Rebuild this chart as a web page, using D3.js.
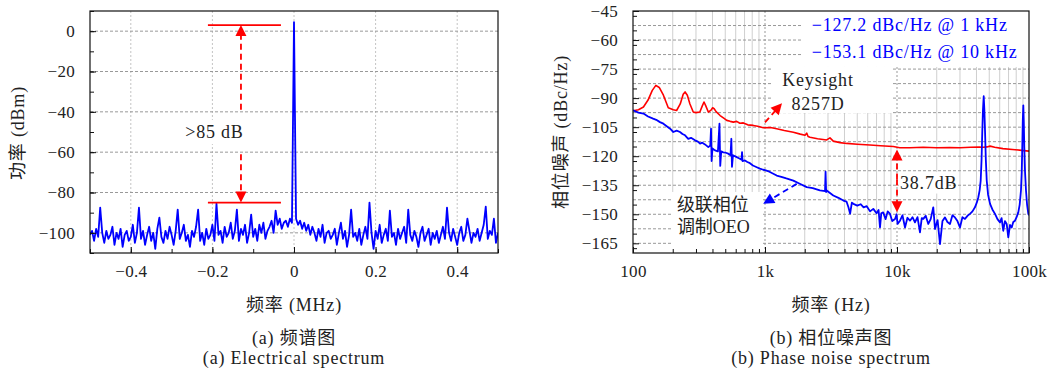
<!DOCTYPE html>
<html><head><meta charset="utf-8">
<script src="https://cdn.jsdelivr.net/npm/d3@7"></script>
<style>
body{margin:0;background:#fff}
svg text{font-family:"Liberation Serif","Noto Sans CJK SC",serif;fill:#222}
</style>
</head><body><svg id="c" width="1050" height="374"></svg>
<script>
// ---------------- DATA ----------------
// (a) electrical spectrum: power (dBm) sampled every 0.005 MHz from -0.5 to 0.5
const spectrumStart = -0.5, spectrumStep = 0.005;
const spectrumPower = [
 -101,-99,-104,-98,-102,-87.5,-100,-105,-99,-103,
 -101,-97,-106,-100,-103,-98,-107,-101,-99,-104,
 -102,-96,-105,-100,-87.5,-103,-99,-106,-101,-97,
 -104,-100,-108,-98,-92.5,-102,-105,-99,-103,-97,
 -101,-106,-99,-88.5,-103,-100,-96,-104,-101,-107,
 -99,-102,-97,-88.5,-104,-100,-106,-98,-103,-101,
 -96,-104,-85.5,-101,-99,-105,-97,-102,-100,-95,
 -103,-99,-88.5,-104,-98,-101,-96,-105,-100,-91,
 -102,-98,-104,-96,-100,-95,-103,-99,-97,-94,
 -100,-89,-96,-93,-98,-95,-94,-97,-93,-95,
 4.5,
 -93,-96,-94,-98,-95,-99,-96,-101,-97,
 -100,-104,-98,-102,-96,-105,-100,-99,-103,-101,
 -98,-106,-100,-95,-103,-99,-107,-101,-88.5,-102,
 -100,-104,-98,-106,-101,-97,-103,-85,-100,-108,
 -99,-103,-96,-105,-101,-98,-104,-89,-102,-100,
 -106,-98,-103,-100,-97,-105,-88.5,-101,-104,-99,
 -102,-107,-100,-97,-104,-101,-98,-106,-100,-103,
 -99,-105,-101,-97,-103,-87.5,-100,-104,-98,-102,
 -106,-100,-97,-104,-101,-93,-99,-105,-100,-102,
 -98,-104,-100,-96,-87,-103,-99,-101,-93,-105,
 -100
];
const specXTicks = [-0.4,-0.2,0,0.2,0.4];
const specXTickLabels = ["\u22120.4","\u22120.2","0","0.2","0.4"];
const specYTicks = [0,-20,-40,-60,-80,-100];
const specYTickLabels = ["0","\u221220","\u221240","\u221260","\u221280","\u2212100"];

// (b) phase noise: Keysight 8257D (red)
const keysightFreq = [100,110,120,130,140,149,158,170,185,202,214,228,240,248,258,270,286,300,321,335,345,356,372,390,401,412,426,457,490,513,545,575,610,645,685,740,815,880,970,1100,1226,1400,1639,1850,2009,2070,2120,2193,2500,2933,3106,3291,3700,4159,5000,6237,7500,9376,10500,12500,15800,20000,25000,30000,36000,42000,45100,48000,50700,55000,63500,75000,88000,100000];
const keysightPN = [-96.5,-96,-94.6,-91,-86,-83.4,-84.5,-88.5,-95,-96,-96.4,-93,-88,-86.8,-88.5,-93,-97.2,-97.5,-97.2,-94,-92,-94,-97.2,-96.2,-95,-95.5,-97,-99,-100.5,-101.5,-102,-102.4,-102,-103,-102.8,-103.8,-104.1,-104.5,-105.3,-105.2,-105.8,-106.7,-107.6,-108.6,-109.2,-108.1,-109.8,-110.2,-111,-111.6,-110.5,-112.2,-113,-113.4,-113.8,-114.2,-114.6,-115,-115.6,-115.6,-115.4,-115.6,-115.5,-115.6,-115.4,-115.3,-115.4,-115.2,-114.8,-115.4,-116.1,-116.5,-117,-117.4];

// (b) phase noise: cascaded phase-modulation OEO (blue)
const oeoFreq = [100,110,120,130,142,150,160,170,180,191,202,214,227,237,248,262,275,295,310,322,335,351,372,385,390,394,400,418,440,452,458,466,483,505,527,548,556,562,572,611,640,664,670,676,705,735,769,810,866,915,969,1000,1080,1226,1350,1450,1639,1800,2070,2300,2604,2850,2876,2905,2933,3291,3600,3922,4150,4287,4415,4550,4676,5000,5300,5584,5900,6250,6613,7000,7250,7434,7600,7858,8200,8500,8851,9200,9661,9934,10100,10540,11000,11500,12000,12540,13100,13680,14300,14930,15400,15820,16500,17260,18000,18830,19400,20300,21170,22100,23100,24100,25200,26300,27490,28700,29990,31300,32720,34200,35700,37300,38950,40200,41310,42300,43060,43700,44290,44800,45380,45900,46420,47100,47840,49000,50700,52800,55260,57700,60290,62000,63810,65700,67760,69680,71800,73940,76000,78340,80500,82970,85000,86930,88100,88930,89700,90550,91300,92120,93300,94890,96700,98830,100000];
const oeoPN = [-96.3,-97.5,-98,-99.5,-100.6,-101.2,-102.4,-103.2,-104.5,-105.8,-107.5,-106.8,-107.5,-108.5,-109.2,-111,-110.5,-111.8,-112.5,-113.5,-113,-113.9,-115.3,-114.5,-105.8,-122.5,-116,-117,-117.5,-103.2,-125,-117.5,-118,-118.2,-118.7,-119.5,-111,-125.5,-119.5,-120.5,-121.2,-121.8,-117.9,-122.5,-122.2,-123,-123.6,-124.8,-125.7,-126.4,-127,-127.2,-128,-130,-130.8,-131.5,-132.6,-134,-136,-136.5,-137.7,-138,-128,-138.5,-137.7,-140.3,-141.5,-142.9,-143.5,-146.4,-149.7,-144,-144.6,-145.5,-144.8,-146.4,-145.8,-148.5,-147.2,-149.5,-147.8,-156.8,-149.5,-149,-152.5,-148.5,-149.8,-153.5,-152.4,-150,-155,-153.3,-150.5,-156.8,-151.8,-153.3,-151.5,-154.2,-151.5,-159.3,-152,-152.4,-150.8,-155,-152.5,-146.4,-157.6,-153,-165.4,-153.5,-151.6,-154,-155,-150.5,-151.6,-153.5,-156.8,-151.5,-152.4,-150.8,-149.8,-148.5,-146.4,-144,-141.2,-137.5,-132.6,-122,-106.7,-96,-89,-96,-106.7,-122,-132.6,-140,-144.6,-147.5,-149.8,-152.5,-154.2,-152,-158.5,-153.5,-155,-161.9,-155.5,-156.8,-154,-153.3,-151.5,-149,-145,-137.7,-128,-115.3,-102,-93.7,-102,-115.3,-128,-137.7,-145,-149.8,-150.5];

const pnXTicks = [100,1000,10000,100000];
const pnXTickLabels = ["100","1k","10k","100k"];
const pnYTicks = [-45,-60,-75,-90,-105,-120,-135,-150,-165];
const pnYTickLabels = ["\u221245","\u221260","\u221275","\u221290","\u2212105","\u2212120","\u2212135","\u2212150","\u2212165"];

// ---------------- DRAW ----------------
const FONT = '"Liberation Serif","Noto Sans CJK SC",serif';
const svg = d3.select("#c");
const BLUE="#0000ff", RED="#ff0000";
const LS = "0.8px";

function arrowHead(g, x1, y1, x2, y2, color, len=11, wid=11){
  const a = Math.atan2(y2-y1, x2-x1);
  const bx = x2 - len*Math.cos(a), by = y2 - len*Math.sin(a);
  const px = -Math.sin(a)*wid/2, py = Math.cos(a)*wid/2;
  g.append("path").attr("d",`M${x2},${y2}L${bx+px},${by+py}L${bx-px},${by-py}Z`).attr("fill",color);
}
function dashedArrow(g, x1, y1, x2, y2, color){
  const a = Math.atan2(y2-y1, x2-x1);
  g.append("line").attr("x1",x1).attr("y1",y1)
   .attr("x2",x2-9*Math.cos(a)).attr("y2",y2-9*Math.sin(a))
   .attr("stroke",color).attr("stroke-width",1.8).attr("stroke-dasharray","6,4");
  arrowHead(g,x1,y1,x2,y2,color);
}
function label(g, x, y, txt, size, anchor){
  return g.append("text").attr("x",x).attr("y",y).attr("dy","0.35em")
    .attr("text-anchor",anchor||"middle").attr("font-size",size)
    .style("font-family",FONT).style("letter-spacing",LS).text(txt);
}

// ===== Panel (a) =====
const xL = d3.scaleLinear().domain([-0.5,0.5]).range([90,498]);
const yL = d3.scaleLinear().domain([-110,10]).range([253,11]);
const gA = svg.append("g");
gA.selectAll(".vg").data(specXTicks).join("line")
  .attr("x1",d=>xL(d)).attr("x2",d=>xL(d)).attr("y1",yL(10)).attr("y2",yL(-110))
  .attr("stroke","#c4c4c4").attr("stroke-dasharray","2,2");
gA.selectAll(".hg").data(specYTicks).join("line")
  .attr("x1",xL(-0.5)).attr("x2",xL(0.5)).attr("y1",d=>yL(d)).attr("y2",d=>yL(d))
  .attr("stroke","#999").attr("stroke-dasharray","3,2");
gA.append("rect").attr("x",xL(-0.275)).attr("y",yL(-44)).attr("width",xL(-0.11)-xL(-0.275)).attr("height",yL(-56)-yL(-44)).attr("fill","#fff");

svg.append("clipPath").attr("id","clipA").append("rect").attr("x",90).attr("y",11).attr("width",408).attr("height",242);
const specLine = d3.line().x((d,i)=>xL(spectrumStart+i*spectrumStep)).y(d=>yL(d));
gA.append("path").datum(spectrumPower).attr("d",specLine).attr("fill","none")
  .attr("stroke",BLUE).attr("stroke-width",1.8).attr("stroke-linejoin","round").attr("clip-path","url(#clipA)");

[3,-85].forEach(v=>gA.append("line").attr("x1",xL(-0.211)).attr("x2",xL(-0.032)).attr("y1",yL(v)).attr("y2",yL(v)).attr("stroke",RED).attr("stroke-width",1.8));
dashedArrow(gA, xL(-0.13), yL(-39), xL(-0.13), yL(3), RED);
dashedArrow(gA, xL(-0.13), yL(-61), xL(-0.13), yL(-85), RED);
label(gA, xL(-0.195), yL(-50), ">85 dB", 18);

gA.append("rect").attr("x",90).attr("y",11).attr("width",408).attr("height",242).attr("fill","none").attr("stroke","#111").attr("stroke-width",1.2);
function styleAxis(sel){
  sel.attr("font-family",FONT);
  sel.select(".domain").remove();
  sel.selectAll("line").attr("stroke","#111");
  sel.selectAll("text").attr("font-size",17).attr("fill","#222").style("font-family",FONT).style("letter-spacing","0.3px");
}
gA.append("g").attr("transform","translate(0,253)").call(d3.axisBottom(xL).tickValues(d3.range(-0.5,0.51,0.1)).tickSize(-4).tickFormat("")).call(styleAxis);
gA.append("g").attr("transform","translate(0,253)").call(d3.axisBottom(xL).tickValues(specXTicks).tickSize(-6).tickFormat((d,i)=>specXTickLabels[i]).tickPadding(12)).call(styleAxis);
gA.append("g").attr("transform","translate(90,0)").call(d3.axisLeft(yL).tickValues(d3.range(-110,11,10)).tickSize(-4).tickFormat("")).call(styleAxis);
gA.append("g").attr("transform","translate(90,0)").call(d3.axisLeft(yL).tickValues(specYTicks).tickSize(-6).tickFormat((d,i)=>specYTickLabels[i]).tickPadding(15)).call(styleAxis);

gA.append("text").attr("transform","translate(18,133) rotate(-90)").attr("dy","0.35em").attr("text-anchor","middle").attr("font-size",18).style("font-family",FONT).style("letter-spacing",LS).text("功率 (dBm)");
label(gA, 294, 305, "频率 (MHz)", 18);
label(gA, 294, 338, "(a) 频谱图", 18);
label(gA, 294, 358, "(a) Electrical spectrum", 18);

// ===== Panel (b) =====
const xR = d3.scaleLog().domain([100,100000]).range([633,1029]);
const yR = d3.scaleLinear().domain([-170,-45]).range([253,11]);
const gB = svg.append("g");
const minorF = [];
[100,1000,10000].forEach(b=>{for(let k=2;k<=9;k++) minorF.push(b*k);});
gB.selectAll(".vm").data(minorF).join("line")
  .attr("x1",d=>xR(d)).attr("x2",d=>xR(d)).attr("y1",11).attr("y2",253)
  .attr("stroke","#cfcfcf").attr("stroke-width",1);
gB.selectAll(".vM").data([1000,10000]).join("line")
  .attr("x1",d=>xR(d)).attr("x2",d=>xR(d)).attr("y1",11).attr("y2",253)
  .attr("stroke","#999").attr("stroke-dasharray","2,2");
gB.selectAll(".hg").data(d3.range(-165,-45,7.5)).join("line")
  .attr("x1",633).attr("x2",1029).attr("y1",d=>yR(d)).attr("y2",d=>yR(d))
  .attr("stroke","#999").attr("stroke-dasharray","3,2");

function box(f1,f2,v1,v2){ gB.append("rect").attr("x",xR(f1)).attr("y",yR(v1)).attr("width",xR(f2)-xR(f1)).attr("height",yR(v2)-yR(v1)).attr("fill","#fff"); }
box(1941,100000,-45,-73.9);
box(1130,9165,-73.9,-97.7);
box(197,949,-138.5,-170);
box(10300,24500,-128.2,-139.3);

svg.append("clipPath").attr("id","clipB").append("rect").attr("x",633).attr("y",11).attr("width",396).attr("height",242);
const lineR = d3.line().x(d=>xR(d[0])).y(d=>yR(d[1]));
gB.append("path").datum(keysightFreq.map((f,i)=>[f,keysightPN[i]])).attr("d",lineR)
  .attr("fill","none").attr("stroke",RED).attr("stroke-width",1.6).attr("stroke-linejoin","round").attr("clip-path","url(#clipB)");
gB.append("path").datum(oeoFreq.map((f,i)=>[f,oeoPN[i]])).attr("d",lineR)
  .attr("fill","none").attr("stroke",BLUE).attr("stroke-width",1.8).attr("stroke-linejoin","round").attr("clip-path","url(#clipB)");

dashedArrow(gB, xR(1000), yR(-102.5), xR(1345), yR(-92.7), RED);
dashedArrow(gB, xR(1738), yR(-134.3), xR(969), yR(-144.6), BLUE);
dashedArrow(gB, xR(10000), yR(-132), xR(10000), yR(-116.5), RED);
dashedArrow(gB, xR(10000), yR(-132), xR(10000), yR(-149), RED);

label(gB, xR(2259), yR(-52.2), "\u2212127.2 dBc/Hz @ 1 kHz", 18, "start").style("fill",BLUE);
label(gB, xR(2259), yR(-66), "\u2212153.1 dBc/Hz @ 10 kHz", 18, "start").style("fill",BLUE);
label(gB, xR(2520), yR(-80.6), "Keysight", 18);
label(gB, xR(2520), yR(-92.7), "8257D", 18);
label(gB, xR(215), yR(-145.2), "级联相位", 18, "start").style("letter-spacing","0px");
label(gB, xR(215), yR(-156.6), "调制OEO", 18, "start").style("letter-spacing","0px");
label(gB, xR(10540), yR(-133.8), "38.7dB", 18, "start");

gB.append("rect").attr("x",633).attr("y",11).attr("width",396).attr("height",242).attr("fill","none").attr("stroke","#111").attr("stroke-width",1.2);
gB.append("g").attr("transform","translate(0,253)").call(d3.axisBottom(xR).tickValues(minorF).tickSize(-4).tickFormat("")).call(styleAxis);
gB.append("g").attr("transform","translate(0,253)").call(d3.axisBottom(xR).tickValues(pnXTicks).tickSize(-6).tickFormat((d,i)=>pnXTickLabels[i]).tickPadding(12)).call(styleAxis);
gB.append("g").attr("transform","translate(633,0)").call(d3.axisLeft(yR).tickValues(d3.range(-167.5,-45,7.5)).tickSize(-4).tickFormat("")).call(styleAxis);
gB.append("g").attr("transform","translate(633,0)").call(d3.axisLeft(yR).tickValues(pnYTicks).tickSize(-6).tickFormat((d,i)=>pnYTickLabels[i]).tickPadding(15)).call(styleAxis);

gB.append("text").attr("transform","translate(561,132) rotate(-90)").attr("dy","0.35em").attr("text-anchor","middle").attr("font-size",18).style("font-family",FONT).style("letter-spacing",LS).text("相位噪声 (dBc/Hz)");
label(gB, 831, 305, "频率 (Hz)", 18);
label(gB, 831, 338, "(b) 相位噪声图", 18);
label(gB, 831, 358, "(b) Phase noise spectrum", 18);
</script></body></html>
